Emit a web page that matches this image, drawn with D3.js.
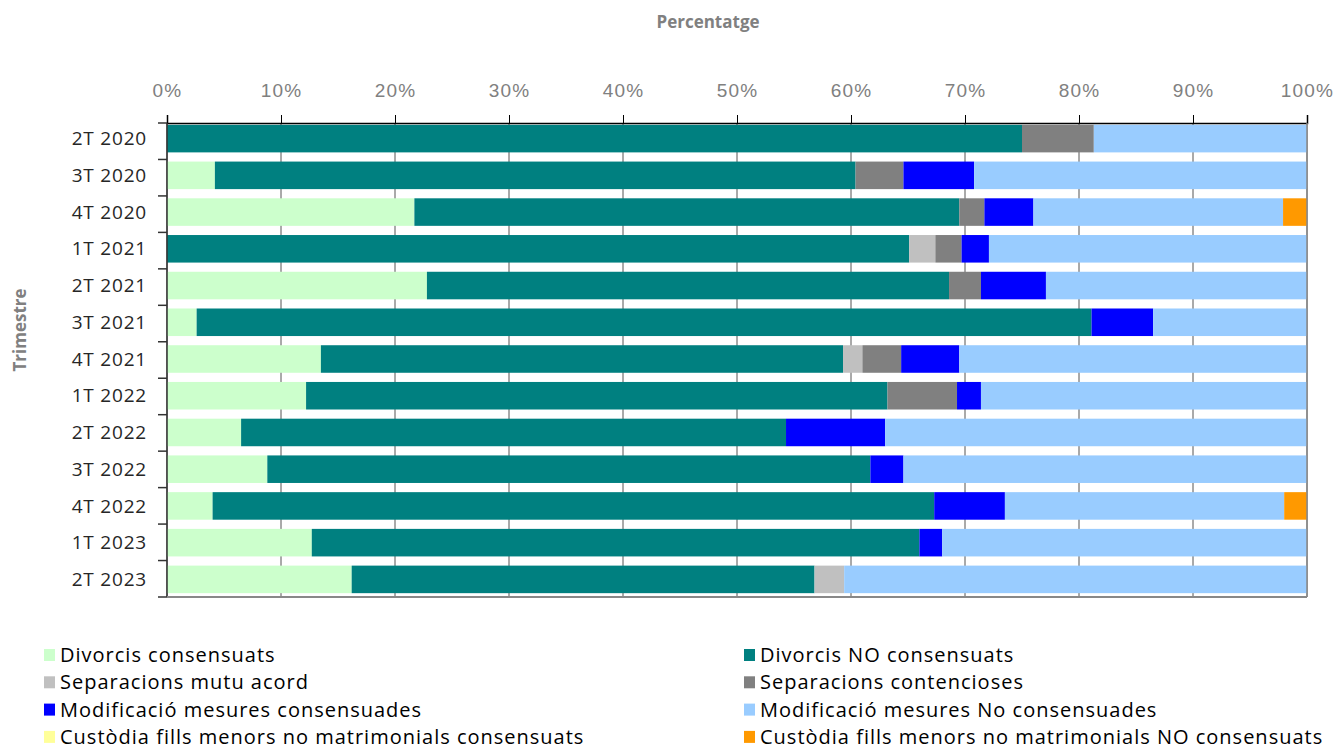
<!DOCTYPE html>
<html>
<head>
<meta charset="utf-8">
<script src="https://cdn.jsdelivr.net/npm/d3@7"></script>
<style>
  body { margin: 0; background: #fff; }
  svg { font-family: "Open Sans", "Liberation Sans", sans-serif; }
</style>
</head>
<body>
<svg width="1336" height="749"></svg>
<script>
// quarters, top to bottom
var quarters = ["2T 2020", "3T 2020", "4T 2020", "1T 2021", "2T 2021", "3T 2021", "4T 2021",
                "1T 2022", "2T 2022", "3T 2022", "4T 2022", "1T 2023", "2T 2023"];

var seriesNames = ["Divorcis consensuats", "Divorcis NO consensuats", "Separacions mutu acord",
                   "Separacions contencioses", "Modificació mesures consensuades",
                   "Modificació mesures No consensuades",
                   "Custòdia fills menors no matrimonials consensuats",
                   "Custòdia fills menors no matrimonials NO consensuats"];

var seriesColors = ["#ccffcc", "#008080", "#c0c0c0", "#808080", "#0000ff", "#99ccff", "#ffff99", "#ff9900"];

// percentages per series, one value per quarter
var divorcisCons    = [0, 4.2, 21.7, 0, 22.8, 2.6, 13.5, 12.2, 6.5, 8.8, 4.0, 12.7, 16.2];
var divorcisNoCons  = [75.0, 56.2, 47.8, 65.1, 45.8, 78.5, 45.8, 51.0, 47.8, 52.9, 63.3, 53.3, 40.6];
var sepMutu         = [0, 0, 0, 2.3, 0, 0, 1.7, 0, 0, 0, 0, 0, 2.6];
var sepContenc      = [6.3, 4.2, 2.2, 2.3, 2.8, 0, 3.4, 6.1, 0, 0, 0, 0, 0];
var modCons         = [0, 6.2, 4.3, 2.4, 5.7, 5.4, 5.1, 2.1, 8.7, 2.9, 6.2, 2.0, 0];
var modNoCons       = [18.7, 29.2, 21.9, 27.9, 22.9, 13.5, 30.5, 28.6, 37.0, 35.4, 24.5, 32.0, 40.6];
var custCons        = [0, 0, 0, 0, 0, 0, 0, 0, 0, 0, 0, 0, 0];
var custNoCons      = [0, 0, 2.1, 0, 0, 0, 0, 0, 0, 0, 2.0, 0, 0];

var xTicks = [0, 10, 20, 30, 40, 50, 60, 70, 80, 90, 100];

var seriesValues = [divorcisCons, divorcisNoCons, sepMutu, sepContenc, modCons, modNoCons, custCons, custNoCons];

var table = quarters.map(function(q, i) {
  var row = { quarter: q };
  seriesNames.forEach(function(s, j) { row[s] = seriesValues[j][i]; });
  return row;
});

var stacked = d3.stack().keys(seriesNames)(table);

var svg = d3.select("svg");
var plotLeft = 167, plotRight = 1307, plotTop = 123, plotBottom = 597;

var x = d3.scaleLinear().domain([0, 100]).range([plotLeft, plotRight]);
var y = d3.scaleBand().domain(quarters).range([plotTop, 595]).paddingInner(0.25).paddingOuter(0.05);
var color = d3.scaleOrdinal().domain(seriesNames).range(seriesColors);

// vertical gridlines
svg.append("g")
  .selectAll("line")
  .data(xTicks)
  .enter()
  .append("line")
  .attr("x1", d => x(d)).attr("x2", d => x(d))
  .attr("y1", plotTop).attr("y2", plotBottom)
  .attr("stroke", "#555").attr("stroke-width", 1);

// bars
svg.append("g")
  .selectAll("g")
  .data(stacked)
  .enter()
  .append("g")
  .attr("fill", d => color(d.key))
  .selectAll("rect")
  .data(d => d)
  .enter()
  .append("rect")
  .attr("x", d => x(d[0]))
  .attr("width", d => x(d[1]) - x(d[0]))
  .attr("y", d => y(d.data.quarter))
  .attr("height", y.bandwidth());

// top axis
var xAxis = svg.append("g")
  .attr("transform", "translate(0," + plotTop + ")")
  .call(d3.axisTop(x).tickValues(xTicks).tickFormat(d => d + "%").tickSize(8).tickPadding(18));
xAxis.select(".domain").attr("stroke", "#000").attr("stroke-width", 1.5);
xAxis.selectAll(".tick line").attr("stroke", "#000");
xAxis.selectAll("text").attr("fill", "#808080").attr("font-size", 19).attr("letter-spacing", 1.2);

// left axis, ticks between the bands
var yAxis = svg.append("g").attr("transform", "translate(" + plotLeft + ",0)");
yAxis.append("line")
  .attr("y1", plotTop).attr("y2", plotBottom)
  .attr("stroke", "#333").attr("stroke-width", 1.5);
var boundaries = d3.range(quarters.length + 1).map(i => plotTop + i * (plotBottom - plotTop) / quarters.length);
yAxis.selectAll(".ytick")
  .data(boundaries)
  .enter()
  .append("line")
  .attr("x1", -9).attr("x2", 0)
  .attr("y1", d => d).attr("y2", d => d)
  .attr("stroke", "#333").attr("stroke-width", 1.5);
yAxis.selectAll("text")
  .data(quarters)
  .enter()
  .append("text")
  .attr("x", -20)
  .attr("y", d => y(d) + y.bandwidth() / 2)
  .attr("dy", "0.35em")
  .attr("text-anchor", "end")
  .attr("font-size", 19)
  .attr("letter-spacing", 0.8)
  .attr("fill", "#262626")
  .text(d => d);

// bottom and right frame
svg.append("line")
  .attr("x1", plotLeft).attr("x2", plotRight)
  .attr("y1", plotBottom).attr("y2", plotBottom)
  .attr("stroke", "#888").attr("stroke-width", 2);
svg.append("line")
  .attr("x1", plotRight).attr("x2", plotRight)
  .attr("y1", plotTop).attr("y2", plotBottom)
  .attr("stroke", "#888").attr("stroke-width", 1.5);

// axis titles
svg.append("text")
  .attr("x", 708).attr("y", 28)
  .attr("text-anchor", "middle")
  .attr("font-size", 17).attr("font-weight", "bold")
  .attr("fill", "#808080")
  .text("Percentatge");

svg.append("text")
  .attr("transform", "translate(26,330) rotate(-90)")
  .attr("text-anchor", "middle")
  .attr("font-size", 17).attr("font-weight", "bold")
  .attr("fill", "#808080")
  .text("Trimestre");

// legend
var legend = svg.append("g").classed("legend", true);
var items = legend.selectAll("g")
  .data(seriesNames)
  .enter()
  .append("g")
  .attr("transform", (d, i) => "translate(" + (i % 2 === 0 ? 44 : 744) + "," + (655 + Math.floor(i / 2) * 27.3) + ")");
items.append("rect")
  .attr("x", 0).attr("y", -6)
  .attr("width", 11).attr("height", 12)
  .attr("fill", d => color(d));
items.append("text")
  .attr("x", 16)
  .attr("dy", "0.35em")
  .attr("font-size", 20)
  .attr("letter-spacing", 1)
  .attr("fill", "#000")
  .text(d => d);
</script>
</body>
</html>
